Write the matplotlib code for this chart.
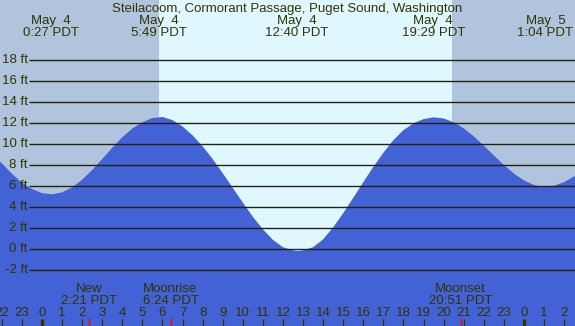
import numpy as np
import matplotlib.pyplot as plt

plt.rcParams['font.family'] = ['Liberation Sans', 'DejaVu Sans']

title = "Steilacoom, Cormorant Passage, Puget Sound, Washington"

# water level, every half hour (hours from midnight May 4)
hours = [-2.5, -2.0, -1.5, -1.0, -0.5, 0.0, 0.5, 1.0, 1.5, 2.0, 2.5, 3.0, 3.5, 4.0,
         4.5, 5.0, 5.5, 6.0, 6.5, 7.0, 7.5, 8.0, 8.5, 9.0, 9.5, 10.0, 10.5, 11.0,
         11.5, 12.0, 12.5, 12.75, 13.0, 13.5, 14.0, 14.5, 15.0, 15.5, 16.0, 16.5,
         17.0, 17.5, 18.0, 18.5, 19.0, 19.5, 20.0, 20.5, 21.0, 21.5, 22.0, 22.5,
         23.0, 23.5, 24.0, 24.5, 25.0, 25.5, 26.0, 26.5, 27.0]
level_ft = [9.1, 8.2, 7.2, 6.35, 5.75, 5.35, 5.24, 5.42, 5.9, 6.63, 7.55, 8.6, 9.67, 10.68,
            11.5, 12.1, 12.5, 12.6, 12.3, 11.7, 10.85, 9.8, 8.6, 7.25, 5.85, 4.45, 3.1, 1.9,
            0.9, 0.2, -0.1, -0.16, -0.1, 0.2, 0.95, 2.1, 3.45, 4.9, 6.4, 7.85,
            9.2, 10.4, 11.35, 12.0, 12.4, 12.57, 12.46, 12.1, 11.52, 10.76, 9.87, 8.94,
            8.03, 7.21, 6.56, 6.12, 5.93, 6.05, 6.4, 6.95, 7.55]

# high / low tides shown at the top
extreme_hours = [0.45, 5.817, 12.667, 19.483, 25.067]
extreme_dates = ["May  4", "May  4", "May  4", "May  4", "May  5"]
extreme_times = ["0:27 PDT", "5:49 PDT", "12:40 PDT", "19:29 PDT", "1:04 PDT"]

# moon events shown at the bottom
moon_hours = [2.35, 6.4, 20.85]
moon_names = ["New", "Moonrise", "Moonset"]
moon_times = ["2:21 PDT", "6:24 PDT", "20:51 PDT"]

sunrise, sunset = 5.83, 20.4

grid_ft = list(range(-2, 19, 2))
hour_ticks = list(range(-2, 27))
hour_labels = [str(h % 24) for h in hour_ticks]

night_col = "#B0C4DE"
day_col = "#DFF8FF"
water_col = "#4262D6"
ink = "#333300"
fs = 9.5

fig = plt.figure(figsize=(5.75, 3.26), dpi=100)
ax = fig.add_axes([0, 0, 1, 1])
ax.set_xlim(-2.09, 26.54)
ax.set_ylim(-7.3, 23.74)
ax.axis('off')
ax.add_patch(plt.Rectangle((-5, -10), 40, 40, color=night_col, zorder=0))
ax.axvspan(sunrise, sunset, color=day_col, zorder=1, lw=0)

ax.fill_between(hours, level_ft, -10, color=water_col, lw=0, zorder=2)

ax.hlines(grid_ft, -0.65, 27, color="#222211", lw=1.0, zorder=3)
for g in grid_ft:
    ax.text(-0.72, g, f"{g} ft", ha='right', va='center', fontsize=fs, color=ink, zorder=4)

xt = ax.get_xaxis_transform()
ax.text(0.5, 1 - 12 / 326, title, transform=ax.transAxes, ha='center',
        va='baseline', fontsize=fs, color=ink)
for h, d, t in zip(extreme_hours, extreme_dates, extreme_times):
    ax.text(h, 1 - 24 / 326, d, transform=xt, ha='center', va='baseline',
            fontsize=fs, color=ink)
    ax.text(h, 1 - 36 / 326, t, transform=xt, ha='center', va='baseline',
            fontsize=fs, color=ink)

for h, n, t in zip(moon_hours, moon_names, moon_times):
    ax.text(h, 1 - 291.5 / 326, n, transform=xt, ha='center', va='baseline',
            fontsize=fs, color=ink)
    ax.text(h, 1 - 304 / 326, t, transform=xt, ha='center', va='baseline',
            fontsize=fs, color=ink)

for h, lab in zip(hour_ticks, hour_labels):
    ax.text(h, 1 - 316.5 / 326, lab, transform=xt, ha='center', va='baseline',
            fontsize=fs, color=ink, clip_on=False)
    lw = 2.4 if h % 24 == 0 else 0.9
    ax.vlines(h, -7.4, -6.64, color=ink, lw=lw, zorder=5)

ax.vlines(moon_hours, -7.4, -6.55, color="red", lw=1.0, zorder=6)

fig.savefig("out.png", dpi=100)
